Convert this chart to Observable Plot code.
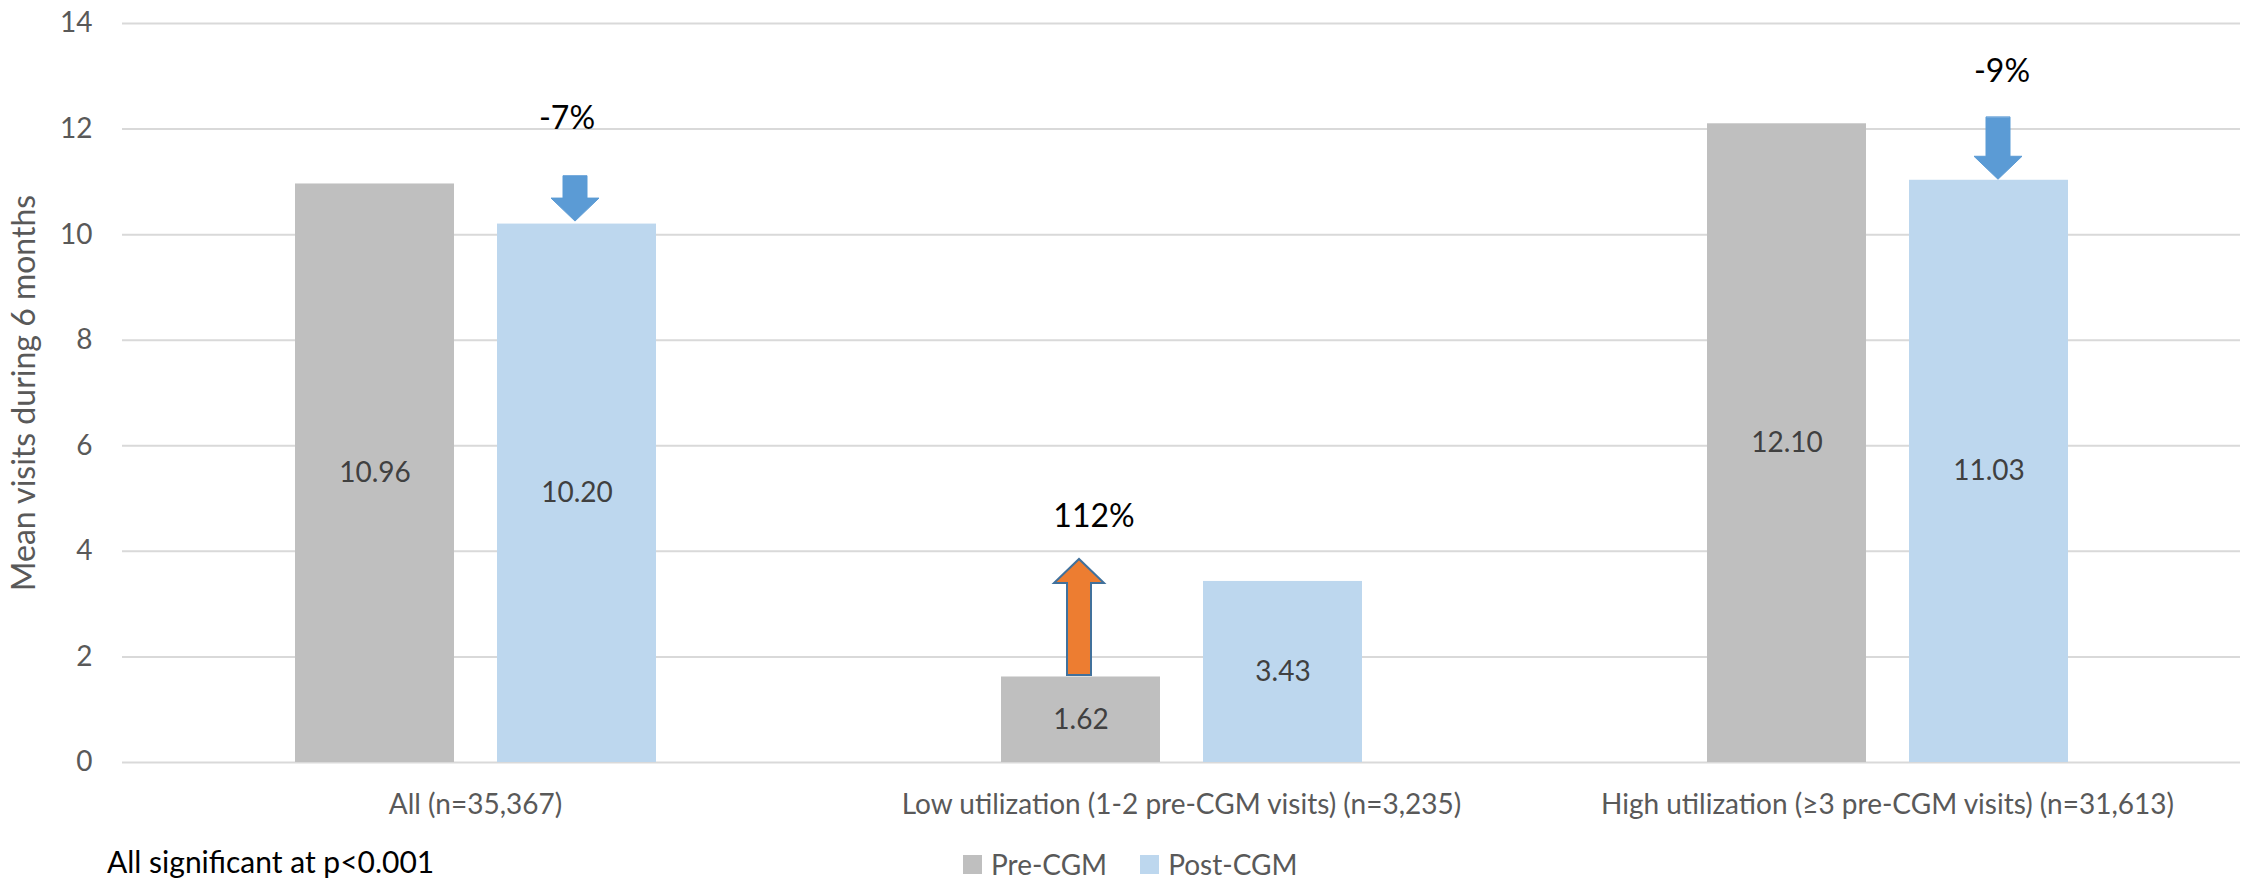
<!DOCTYPE html>
<html>
<head>
<meta charset="utf-8">
<script src="https://cdn.jsdelivr.net/npm/d3@7"></script>
<script src="https://cdn.jsdelivr.net/npm/@observablehq/plot@0.6"></script>
<style>
  html, body { margin: 0; padding: 0; background: #fff; overflow: hidden; }
  #wrap { position: relative; width: 2247px; height: 881px; font-family: Lato, sans-serif; }
  #legend { position: absolute; left: 963px; top: 846px; height: 36px; display: flex; align-items: center; font-size: 28px; line-height: 32px; color: #595959; }
  #legend .item { display: flex; align-items: center; margin-right: 33px; }
  #legend .sw { width: 19px; height: 19px; margin-right: 9px; }
  #caption { position: absolute; left: 107px; top: 843px; font-size: 30px; line-height: 36px; color: #000; white-space: nowrap; }
</style>
</head>
<body>
<div id="wrap">
  <div id="chart"></div>
  <div id="legend"></div>
  <div id="caption"></div>
</div>
<script>
// ---- data ----
const groups = [
  "All (n=35,367)",
  "Low utilization (1-2 pre-CGM visits) (n=3,235)",
  "High utilization (≥3 pre-CGM visits) (n=31,613)"
];
const series = ["Pre-CGM", "Post-CGM"];
const seriesColors = ["#bfbfbf", "#bdd7ee"];
const preValues = [10.96, 1.62, 12.10];
const postValues = [10.20, 3.43, 11.03];
const changeLabels = ["-7%", "112%", "-9%"];
const arrowSeries = ["Post-CGM", "Pre-CGM", "Post-CGM"];
const arrowDirection = ["down", "up", "down"];
const yTicks = [0, 2, 4, 6, 8, 10, 12, 14];
const yLabel = "Mean visits during 6 months";
const captionText = "All significant at p<0.001";

// ---- tables built from the arrays ----
const bars = groups.flatMap((g, i) => [
  {group: g, series: series[0], value: preValues[i]},
  {group: g, series: series[1], value: postValues[i]}
]);
const annotations = groups.map((g, i) => ({
  group: g,
  series: arrowSeries[i],
  value: arrowSeries[i] === series[0] ? preValues[i] : postValues[i],
  label: changeLabels[i],
  dir: arrowDirection[i]
}));

// per-annotation drawing styles (pixels)
const annStyle = [
  {length: 45, dx: -2, dy: -3, labelDx: -10, labelDy: -105},
  {length: 116, dx: -2, dy: -2, labelDx: 13, labelDy: -160},
  {length: 62, dx: 9, dy: -1, labelDx: 13, labelDy: -109}
];

function blockArrow(shaftW, headW, headL) {
  return {
    draw(ctx, l) {
      const s = shaftW / 2, h = headW / 2, b = -(l - headL);
      ctx.moveTo(-s, 0);
      ctx.lineTo(-s, b);
      ctx.lineTo(-h, b);
      ctx.lineTo(0, -l);
      ctx.lineTo(h, b);
      ctx.lineTo(s, b);
      ctx.lineTo(s, 0);
      ctx.closePath();
    }
  };
}

const annMarks = annotations.flatMap((a, i) => {
  const st = annStyle[i];
  const down = a.dir === "down";
  return [
    Plot.vector([a], {
      fx: "group", x: "series", y: "value",
      length: st.length,
      rotate: down ? 180 : 0,
      anchor: down ? "end" : "start",
      shape: down ? blockArrow(24, 48, 23) : blockArrow(24, 50, 24),
      fill: down ? "#5b9bd5" : "#ed7d31",
      stroke: down ? "#5b9bd5" : "#41719c",
      strokeWidth: down ? 1 : 2,
      strokeLinejoin: "miter",
      dx: st.dx, dy: st.dy
    }),
    Plot.text([a], {
      fx: "group", x: "series", y: "value", text: "label",
      dx: st.labelDx, dy: st.labelDy,
      fill: "#000", fontSize: 32
    })
  ];
});

const chart = Plot.plot({
  width: 2247,
  height: 845,
  marginLeft: 122,
  marginRight: 7,
  marginTop: 23,
  marginBottom: 83,
  style: {fontFamily: "Lato, sans-serif", fontSize: "28px", color: "#595959", background: "#fff"},
  fx: {domain: groups, padding: 0, label: null, axis: "bottom", tickSize: 0, tickPadding: 32},
  x: {domain: series, paddingInner: 0.213, paddingOuter: 0.854, axis: null},
  y: {domain: [0, 14], ticks: yTicks, tickSize: 0, tickPadding: 30,
      label: yLabel, labelAnchor: "center", labelOffset: 110, labelArrow: "none"},
  color: {domain: series, range: seriesColors},
  marks: [
    Plot.ruleY(yTicks, {stroke: "#d9d9d9", strokeWidth: 2}),
    Plot.barY(bars, {fx: "group", x: "series", y: "value", fill: "series"}),
    Plot.text(bars, {fx: "group", x: "series", y: d => d.value / 2,
      text: d => d.value.toFixed(2), fill: "#404040", fontSize: 28}),
    ...annMarks
  ]
});
// enlarge the y-axis title a little
chart.querySelectorAll("text").forEach(t => {
  if (t.textContent.trim() === yLabel) t.setAttribute("font-size", 32);
});
document.getElementById("chart").appendChild(chart);

// legend
const leg = document.getElementById("legend");
series.forEach((s, i) => {
  const item = document.createElement("div");
  item.className = "item";
  const sw = document.createElement("div");
  sw.className = "sw";
  sw.style.background = seriesColors[i];
  const t = document.createElement("span");
  t.textContent = s;
  item.appendChild(sw);
  item.appendChild(t);
  leg.appendChild(item);
});
document.getElementById("caption").textContent = captionText;
</script>
</body>
</html>
